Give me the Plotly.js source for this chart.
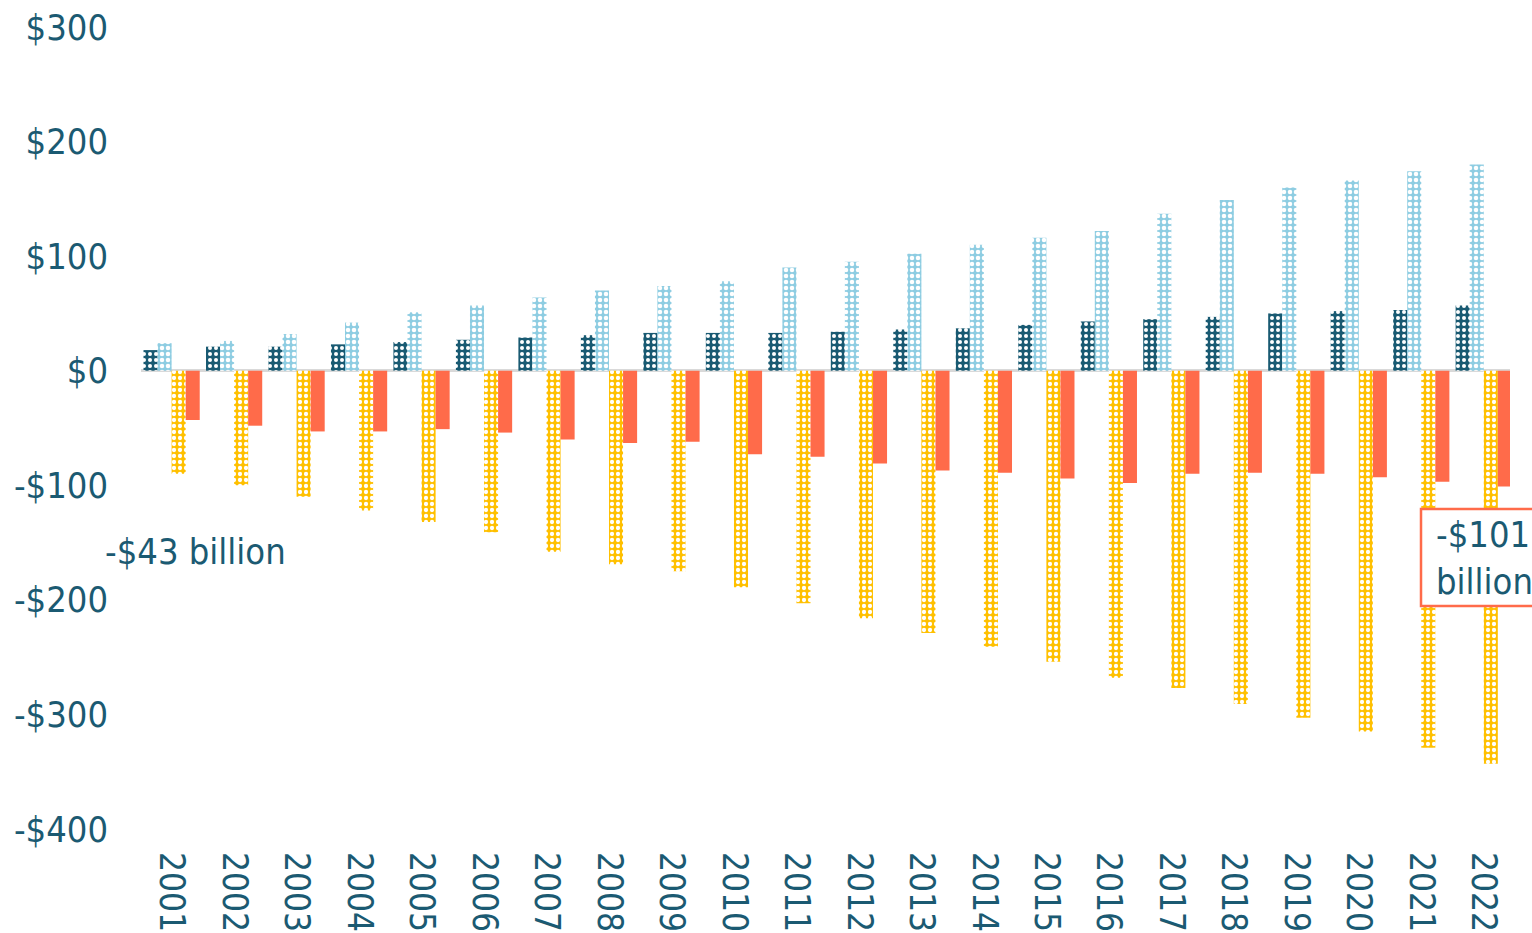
<!DOCTYPE html>
<html>
<head>
<meta charset="utf-8">
<script src="https://cdn.plot.ly/plotly-3.0.1.min.js"></script>
<style>
html,body{margin:0;padding:0;background:#fff;}
#chart{width:1532px;height:933px;}
</style>
</head>
<body>
<div id="chart"></div>
<script>
const years = ["2001","2002","2003","2004","2005","2006","2007","2008","2009","2010","2011","2012","2013","2014","2015","2016","2017","2018","2019","2020","2021","2022"];
const seriesDark = [18,21,21,23,25,27,29,31,33,33,33,34,36,37,40,43,45,47,50,52,53,57];
const seriesLight = [24,26,32,42,51,57,64,70,74,78,90,95,102,110,116,122,137,149,160,166,174,180];
const seriesYellow = [-90,-100,-110,-122,-132,-141,-158,-169,-175,-189,-203,-216,-229,-241,-254,-268,-277,-291,-303,-315,-329,-343];
const seriesRed = [-43,-48,-53,-53,-51,-54,-60,-63,-62,-73,-75,-81,-87,-89,-94,-98,-90,-89,-90,-93,-97,-101];
const yTickVals = [300,200,100,0,-100,-200,-300,-400];
const yTickText = ["$300","$200","$100","$0","-$100","-$200","-$300","-$400"];

const FONT = "'DejaVu Sans Condensed', 'Liberation Sans Narrow', 'DejaVu Sans', sans-serif";
const TXT = "#1b5a72";

function patterned(y, color, solidity) {
  return {
    type: "bar", x: years, y: y,
    marker: {color: color, line: {width: 0},
      pattern: {shape: ".", fillmode: "replace", bgcolor: color, fgcolor: "#ffffff", size: 6, solidity: solidity}},
    hoverinfo: "y"
  };
}

const data = [
  patterned(seriesDark, "#195a72", 0.35),
  patterned(seriesLight, "#8ecde2", 0.45),
  patterned(seriesYellow, "#ffc000", 0.4),
  {type: "bar", x: years, y: seriesRed, marker: {color: "#ff6b4a", line: {width: 0}}, hoverinfo: "y"}
];

const layout = {
  width: 1532, height: 933,
  margin: {l: 141, r: 22, t: 27, b: 104},
  paper_bgcolor: "#ffffff", plot_bgcolor: "#ffffff",
  showlegend: false,
  barmode: "group", bargap: 0.1, bargroupgap: 0,
  font: {family: FONT, color: TXT, size: 36},
  xaxis: {
    type: "category", range: [-0.49, 21.42], automargin: false,
    tickangle: 90, showgrid: false, showline: false, ticks: "",
    ticklabelstandoff: 22,
    tickfont: {family: FONT, size: 35, color: TXT}
  },
  yaxis: {
    range: [-400, 300], automargin: false,
    tickvals: yTickVals, ticktext: yTickText,
    showgrid: false, showline: false, ticks: "",
    zeroline: true, zerolinecolor: "#d9d9d9", zerolinewidth: 3,
    ticklabelstandoff: 32,
    tickfont: {family: FONT, size: 36, color: TXT}
  },
  shapes: [
    {type: "rect", xref: "paper", yref: "paper", layer: "above",
     x0: (1421 - 141) / 1369, x1: 1.05, y0: 0.278, y1: 0.399,
     fillcolor: "#ffffff", line: {color: "#ff6b4a", width: 2.5}}
  ],
  annotations: [
    {xref: "paper", yref: "y", x: -0.028, y: -158, xanchor: "left", yanchor: "middle",
     text: "-$43 billion", showarrow: false, font: {family: FONT, size: 36, color: TXT}},
    {xref: "paper", yref: "paper", x: (1434 - 141) / 1369, y: (0.278 + 0.399) / 2, xanchor: "left", yanchor: "middle",
     text: "-$101<br>billion", align: "left", showarrow: false, borderpad: 1,
     font: {family: FONT, size: 36, color: TXT}}
  ]
};

Plotly.newPlot("chart", data, layout, {displayModeBar: false, staticPlot: true});
</script>
</body>
</html>
